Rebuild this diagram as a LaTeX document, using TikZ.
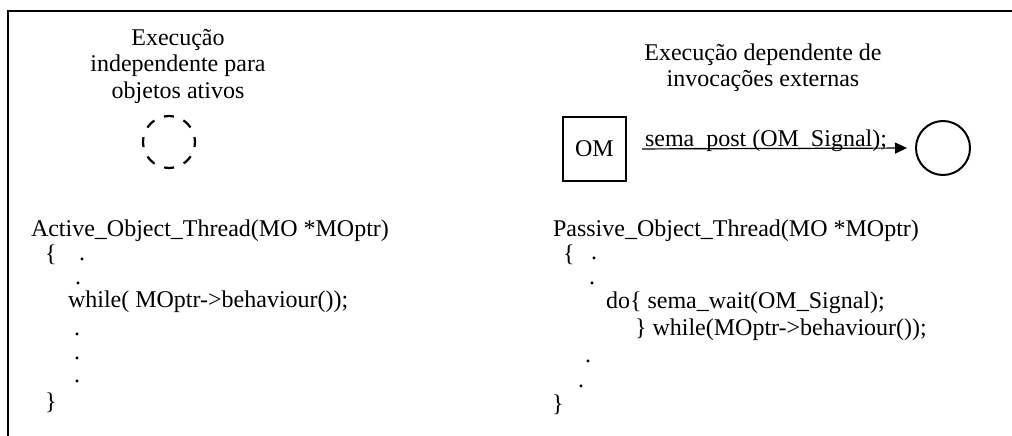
\documentclass[tikz,border=0pt]{standalone}
\usepackage{fontspec}
\setmainfont{Liberation Serif}
\usetikzlibrary{arrows.meta}
\begin{document}
\begin{tikzpicture}[x=1pt,y=-1pt,
  every node/.style={inner sep=0pt, outer sep=0pt, font=\fontsize{24}{27}\selectfont},
  txt/.style={anchor=base west},
  head/.style={anchor=base, align=center},
  frame/.style={line width=1.8pt},
  box/.style={draw, line width=1.5pt, minimum width=63pt, minimum height=64pt},
  obj/.style={draw, circle, line width=2pt, minimum size=54pt},
  dobj/.style={draw, circle, line width=2.2pt, minimum size=52pt, dash pattern=on 10pt off 10.42pt},
  msg/.style={line width=1.2pt, -{Triangle[length=12pt,width=11pt]}}
]
\useasboundingbox (0,0) rectangle (1012,436);
% frame
\coordinate (fb) at (8,436);
\coordinate (fc) at (8,11);
\coordinate (fr) at (1012,11);
\draw[frame] (fb) -- (fc) -- (fr);

% left header
\node[head] (h1) at (178,99) {Execução\\independente para\\objetos ativos};
\node[dobj, rotate=-11] (act) at (169,142) {};

% right header
\node[head] (h2) at (763,87) {Execução dependente de\\invocações externas};
\node[box] (om) at (594.5,149) {OM};
\node[obj] (sig) at (943,148) {};
\draw[msg, shorten <=16pt, shorten >=9pt] (om.east) -- (sig.west);
\node[txt] (lbl) at (645,146) {sema\_post (OM\_Signal);};

% left code
\node[txt] (a1) at (31,236) {Active\_Object\_Thread(MO *MOptr)};
\node[txt] (a2) at (45,261) {\{};
\node[txt] (a3) at (79,260) {.};
\node[txt] (a4) at (75,284) {.};
\node[txt] (a5) at (68,307) {while( MOptr->behaviour());};
\node[txt] (a6) at (74,335) {.};
\node[txt] (a7) at (74,359) {.};
\node[txt] (a8) at (74,382) {.};
\node[txt] (a9) at (45,409) {\}};

% right code
\node[txt] (p1) at (553,236) {Passive\_Object\_Thread(MO *MOptr)};
\node[txt] (p2) at (563,261) {\{};
\node[txt] (p3) at (591,259) {.};
\node[txt] (p4) at (589,284) {.};
\node[txt] (p5) at (606,308) {do\{ sema\_wait(OM\_Signal);};
\node[txt] (p6) at (635,335) {\} while(MOptr->behaviour());};
\node[txt] (p7) at (585,362) {.};
\node[txt] (p8) at (578,387) {.};
\node[txt] (p9) at (552,411) {\}};
\end{tikzpicture}
\end{document}
